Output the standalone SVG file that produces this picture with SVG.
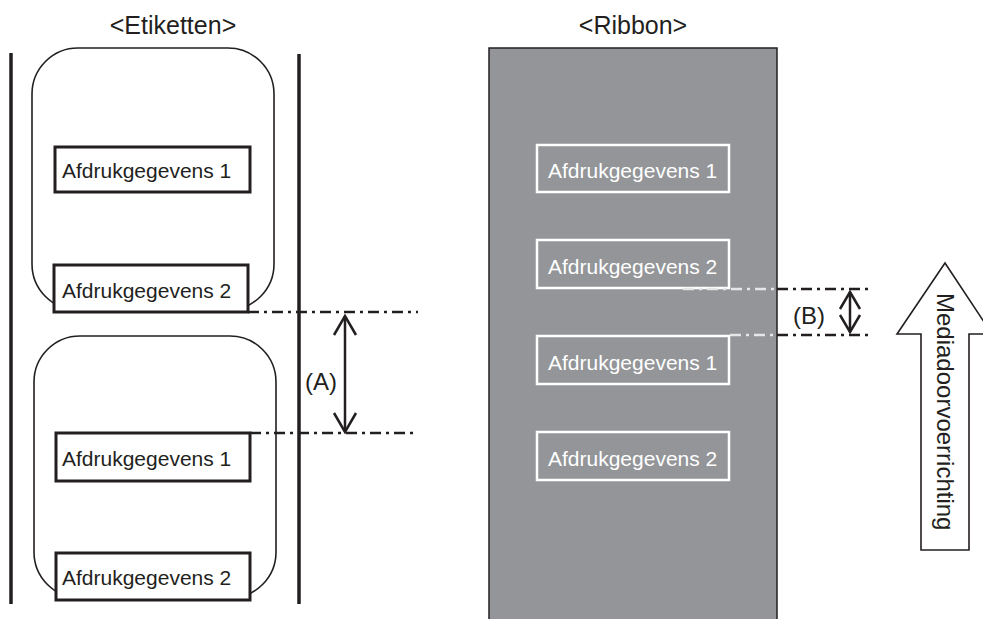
<svg xmlns="http://www.w3.org/2000/svg" width="983" height="619" viewBox="0 0 983 619">
<defs>
<style>
.t{font-family:"Liberation Sans",Arial,sans-serif;fill:#231f20}
.title{font-size:25px}
.lbl{font-size:21px}
.wl{font-size:21px;fill:#ffffff}
.big{font-size:24px}
.rail{stroke:#231f20;stroke-width:3.5;fill:none}
.label{fill:#ffffff;stroke:#231f20;stroke-width:1.6}
.box{fill:#ffffff;stroke:#231f20;stroke-width:3}
.wbox{fill:none;stroke:#ffffff;stroke-width:2.5}
.dd{stroke:#231f20;stroke-width:2.4;stroke-dasharray:11 5 3 5;fill:none}
.ddw{stroke:#e6e6e6;stroke-width:2.4;stroke-dasharray:11 5 3 5;fill:none}
.dim{stroke:#231f20;stroke-width:2.5;fill:none;stroke-linejoin:miter}
</style>
</defs>
<rect width="983" height="619" fill="#ffffff"/>

<g id="etiketten">
<text class="t title" x="173" y="34" text-anchor="middle">&lt;Etiketten&gt;</text>
<line class="rail" x1="11" y1="53" x2="11" y2="604"/>
<line class="rail" x1="299" y1="54" x2="299" y2="604"/>
</g>

<g id="label1">
<rect class="label" x="32" y="48" width="242" height="262" rx="46" ry="46"/>
<g id="l1-data1">
<rect class="box" x="55" y="147" width="195" height="45"/>
<text class="t lbl" x="62" y="178">Afdrukgegevens 1</text>
</g>
<g id="l1-data2">
<rect class="box" x="54" y="265" width="194" height="47"/>
<text class="t lbl" x="62" y="298">Afdrukgegevens 2</text>
</g>
</g>

<g id="label2">
<rect class="label" x="34" y="336" width="242" height="262" rx="46" ry="46"/>
<g id="l2-data1">
<rect class="box" x="56" y="433" width="194" height="48"/>
<text class="t lbl" x="62" y="466">Afdrukgegevens 1</text>
</g>
<g id="l2-data2">
<rect class="box" x="56" y="553" width="194" height="47"/>
<text class="t lbl" x="62" y="585">Afdrukgegevens 2</text>
</g>
</g>

<g id="ribbon">
<text class="t title" x="633" y="34" text-anchor="middle">&lt;Ribbon&gt;</text>
<rect x="489" y="48" width="288" height="590" fill="#939598" stroke="#231f20" stroke-width="1.5"/>
<g id="r-data1">
<rect class="wbox" x="537" y="145" width="192" height="47"/>
<text class="t wl" x="548" y="178">Afdrukgegevens 1</text>
</g>
<g id="r-data2">
<rect class="wbox" x="537" y="240" width="192" height="48"/>
<text class="t wl" x="548" y="274">Afdrukgegevens 2</text>
</g>
<g id="r-data3">
<rect class="wbox" x="537" y="336" width="192" height="48"/>
<text class="t wl" x="548" y="370">Afdrukgegevens 1</text>
</g>
<g id="r-data4">
<rect class="wbox" x="537" y="432" width="192" height="48"/>
<text class="t wl" x="548" y="466">Afdrukgegevens 2</text>
</g>
</g>

<g id="direction">
<polygon points="945,263 992,334 969,334 969,550 921,550 921,334 897,334" fill="#ffffff" stroke="#231f20" stroke-width="1.6" stroke-linejoin="miter"/>
<text class="t big" transform="translate(937,293) rotate(90)">Mediadoorvoerrichting</text>
</g>

<g id="connectors">
<line class="dd" x1="248" y1="312" x2="418" y2="312"/>
<line class="dd" x1="250" y1="433" x2="418" y2="433"/>
<line class="dim" x1="345" y1="316" x2="345" y2="432"/>
<polyline class="dim" points="334,335 345,316 356,335"/>
<polyline class="dim" points="334,413 345,432 356,413"/>
<text class="t big" x="305" y="390">(A)</text>

<line class="ddw" x1="683" y1="289" x2="777" y2="289"/>
<line class="dd" x1="777" y1="289" x2="873" y2="289"/>
<line class="ddw" x1="730" y1="335" x2="777" y2="335"/>
<line class="dd" x1="777" y1="335" x2="873" y2="335"/>
<line class="dim" x1="850" y1="292" x2="850" y2="332"/>
<polyline class="dim" points="840,309 850,292 860,309"/>
<polyline class="dim" points="840,315 850,332 860,315"/>
<text class="t big" x="793" y="324">(B)</text>
</g>
</svg>
